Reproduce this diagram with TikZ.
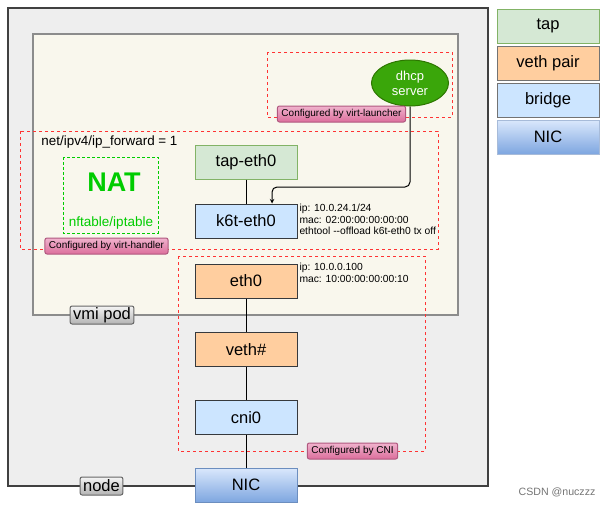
\documentclass[tikz,border=0pt]{standalone}
\usepackage{fontspec}
\setmainfont{Liberation Sans}
\usepackage{tikz}
\usetikzlibrary{arrows}
\usetikzlibrary{shapes}

\definecolor{nodegray}{HTML}{EEEEEE}
\definecolor{podbg}{HTML}{F9F7ED}
\definecolor{tapfill}{HTML}{D5E8D4}
\definecolor{tapline}{HTML}{82B366}
\definecolor{vethfill}{HTML}{FFCE9F}
\definecolor{brfill}{HTML}{CCE5FF}
\definecolor{darkline}{HTML}{36393D}
\definecolor{nictop}{HTML}{DAE8FC}
\definecolor{nicbot}{HTML}{7EA6E0}
\definecolor{nicline}{HTML}{6C8EBF}
\definecolor{dhcpfill}{HTML}{3AA60A}
\definecolor{dhcpline}{HTML}{2D7600}
\definecolor{cfgred}{HTML}{FF3333}
\definecolor{natgreen}{HTML}{00CC00}
\definecolor{pinktop}{HTML}{F0B3CD}
\definecolor{pinkbot}{HTML}{DC6E9C}
\definecolor{pinkline}{HTML}{B0587F}

\begin{document}
\begin{tikzpicture}[x=1pt,y=-1pt,line width=1pt,
  box/.style={draw=darkline, minimum width=102pt, minimum height=34pt, inner sep=0pt, font=\fontsize{16.5}{18}\selectfont},
  tapbox/.style={box, draw=tapline, fill=tapfill},
  vethbox/.style={box, fill=vethfill},
  brbox/.style={box, fill=brfill},
  nicbox/.style={box, draw=nicline, top color=nictop, bottom color=nicbot},
  cfgline/.style={draw=cfgred, dash pattern=on 3pt off 3pt},
  cfglabel/.style={draw=pinkline, rounded corners=2pt, top color=pinktop, bottom color=pinkbot, minimum height=16pt, inner xsep=4pt, inner ysep=0pt, font=\fontsize{10}{12}\selectfont},
  graylabel/.style={draw=black!60, rounded corners=2pt, top color=black!4, bottom color=black!30, minimum height=18pt, inner xsep=3pt, inner ysep=0pt, font=\fontsize{16.5}{18}\selectfont},
  info/.style={anchor=north west, align=left, inner sep=0pt, font=\fontsize{10.3}{11.6}\selectfont}]
\useasboundingbox (0,0) rectangle (611,509);

% node and vmi pod
\draw[draw=black!75, fill=nodegray, line width=1.1pt] (8,8) rectangle (488,486);
\draw[draw=black!45, fill=podbg, line width=1.5pt] (33,34) rectangle (458,315);

% configured areas
\draw[cfgline] (267,52) rectangle (452,117);
\draw[cfgline] (20,131) rectangle (438,249);
\draw[cfgline] (178,256) rectangle (425,451);
\draw[draw=natgreen, dash pattern=on 3pt off 2pt] (63,157) rectangle (158,233);

\node[font=\fontsize{13.4}{15}\selectfont, anchor=west, inner sep=0pt] (fwd) at (41,142) {net/ipv4/ip\_forward = 1};
\node[font=\bfseries\fontsize{27}{30}\selectfont, text=natgreen] (nat) at (114,182) {NAT};
\node[font=\fontsize{13.5}{15}\selectfont, text=natgreen] (nft) at (111,223) {nftable/iptable};

\node[ellipse, draw=dhcpline, fill=dhcpfill, text=white, minimum width=77pt, minimum height=46pt, inner sep=0pt, align=center, font=\fontsize{13}{15}\selectfont] (dhcp) at (410,83) {dhcp\\server};

\node[tapbox] (tap) at (246,162) {tap-eth0};
\node[brbox] (k6t) at (246,221) {k6t-eth0};
\node[vethbox] (eth0) at (246,281) {eth0};
\node[vethbox] (veth) at (246,349.5) {veth\#};
\node[brbox] (cni) at (246,417.5) {cni0};
\node[nicbox] (nic) at (246,485) {NIC};

\node[info] (k6tinfo) at (299,203.5) {ip: 10.0.24.1/24\\mac: 02:00:00:00:00:00\\ethtool {-}{-}offload k6t-eth0 tx off};
\node[info] (eth0info) at (299,263) {ip: 10.0.0.100\\mac: 10:00:00:00:00:10};

\node[cfglabel] (lbllauncher) at (341.5,114) {Configured by virt-launcher};
\node[cfglabel] (lblhandler) at (106.5,246) {Configured by virt-handler};
\node[cfglabel] (lblcni) at (352.5,451) {Configured by CNI};

\node[graylabel] (lblpod) at (102,315) {vmi pod};
\node[graylabel] (lblnode) at (101.5,486) {node};

\coordinate (bend) at (272,187);
\draw (tap) -- (k6t);
\draw (eth0) -- (veth) -- (cni) -- (nic);
\draw[-stealth, rounded corners=5pt] (dhcp.south) |- (bend) -- (bend |- k6t.north);

% legend
\node[tapbox] (legtap) at (548,26) {tap};
\node[vethbox, draw=black!55] (legveth) at (548,63) {veth pair};
\node[brbox, draw=black!55] (legbr) at (548,100) {bridge};
\node[nicbox, draw=nicline!60] (legnic) at (548,137) {NIC};

\node[text=black!55, font=\fontsize{10.6}{12}\selectfont] (mark) at (557,492) {CSDN @nuczzz};
\end{tikzpicture}
\end{document}
